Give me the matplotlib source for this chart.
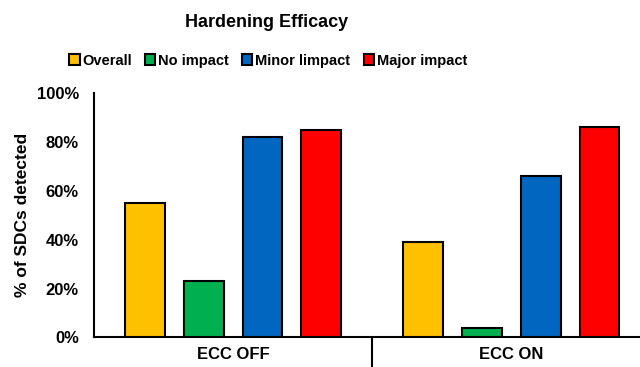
import numpy as np
import matplotlib.pyplot as plt
from matplotlib.patches import Patch

plt.rcParams['font.family'] = ['Liberation Sans', 'DejaVu Sans']
plt.rcParams['font.weight'] = 'bold'

groups = ['ECC OFF', 'ECC ON']
series = ['Overall', 'No impact', 'Minor limpact', 'Major impact']
colors = ['#FFC000', '#00B050', '#0066BF', '#FF0000']
overall = [55, 39]
no_impact = [23, 4]
minor_impact = [82, 66]
major_impact = [85, 86]
values = [overall, no_impact, minor_impact, major_impact]

fig = plt.figure(figsize=(6.4, 3.67), dpi=100)
ax = fig.add_axes([0.147, 0.0804, 0.853, 0.666])

x = np.arange(len(groups))
step = 0.2115
width = 0.143
for i, (vals, col) in enumerate(zip(values, colors)):
    ax.bar(x + (i - 1.5) * step, vals, width, color=col,
           edgecolor='black', linewidth=1.5, zorder=3)

ax.set_xlim(-0.5, 1.463)
ax.set_ylim(0, 100)
ax.set_yticks([0, 20, 40, 60, 80, 100])
ax.set_yticklabels([f'{v}%' for v in [0, 20, 40, 60, 80, 100]])
ax.tick_params(axis='y', length=0, pad=11, labelsize=12)
ax.set_xticks(x)
ax.set_xticklabels(groups)
ax.tick_params(axis='x', length=0, pad=7, labelsize=12)
ax.set_xticks([0.5], minor=True)
ax.tick_params(axis='x', which='minor', length=22, width=1.5, direction='out')

for s in ['top', 'right']:
    ax.spines[s].set_visible(False)
for s in ['left', 'bottom']:
    ax.spines[s].set_linewidth(1.5)

ax.set_ylabel('% of SDCs detected', fontsize=12.5, fontweight='bold', labelpad=5)

fig.text(0.416, 0.94, 'Hardening Efficacy', ha='center', va='center',
         fontsize=13, fontweight='bold')

handles = [Patch(facecolor=c, edgecolor='black', linewidth=1.5) for c in colors]
fig.legend(handles, series, loc='center', bbox_to_anchor=(0.419, 0.835),
           ncol=4, frameon=False, fontsize=10.5, handlelength=0.7,
           handleheight=0.7, handletextpad=0.2, columnspacing=0.9)

fig.savefig('out.png', dpi=100)
